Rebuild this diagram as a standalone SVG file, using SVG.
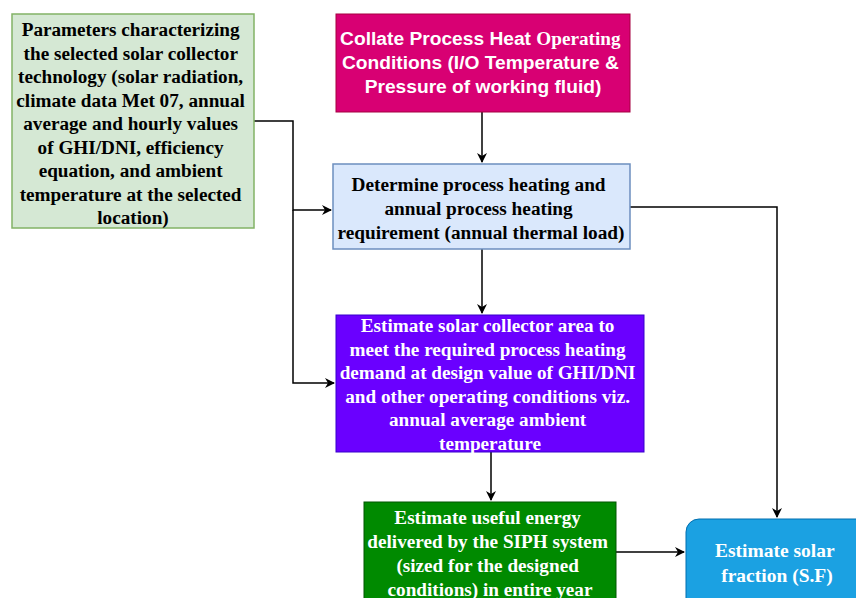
<svg xmlns="http://www.w3.org/2000/svg" width="856" height="598" viewBox="0 0 856 598">
<style>
.t{font-family:"Liberation Serif","Times New Roman",serif;font-weight:bold;text-anchor:middle;dominant-baseline:central}
.a{font-family:"Liberation Sans",Arial,sans-serif;font-weight:bold;text-anchor:middle;dominant-baseline:central;fill:#fff}
.w{fill:#fff}
.k{fill:#000}
.c{fill:none;stroke:#000;stroke-width:1.5}
</style>
<defs>
<marker id="ah" markerWidth="10" markerHeight="10" refX="9" refY="5" orient="auto" markerUnits="userSpaceOnUse">
<path d="M0,0 L10,5 L0,10 L3,5 Z" fill="#000"/>
</marker>
</defs>
<rect width="856" height="598" fill="#fff"/>
<g id="connectors">
<path class="c" d="M482,112 V162" marker-end="url(#ah)"/>
<path class="c" d="M482,249 V313" marker-end="url(#ah)"/>
<path class="c" d="M491,452 V500" marker-end="url(#ah)"/>
<path class="c" d="M630,207 H777 V517" marker-end="url(#ah)"/>
<path class="c" d="M616,552 H684" marker-end="url(#ah)"/>
<path class="c" d="M254,121 H293 V210 H331" marker-end="url(#ah)"/>
<path class="c" d="M293,210 V383 H334" marker-end="url(#ah)"/>
</g>
<g id="params">
<rect x="12" y="14" width="242" height="214" fill="#d5e8d4" stroke="#82b366" stroke-width="1.5"/>
<text class="t k" font-size="19.2">
<tspan x="133" y="29">Parameters characterizing</tspan>
<tspan x="133" y="52.5">the selected solar collector</tspan>
<tspan x="133" y="76">technology (solar radiation,</tspan>
<tspan x="133" y="99.5">climate data Met 07, annual</tspan>
<tspan x="133" y="123">average and hourly values</tspan>
<tspan x="133" y="146.5">of GHI/DNI, efficiency</tspan>
<tspan x="133" y="170">equation, and ambient</tspan>
<tspan x="133" y="193.5">temperature at the selected</tspan>
<tspan x="133" y="217">location)</tspan>
</text>
</g>
<g id="collate">
<rect x="336" y="14" width="294" height="98" fill="#d80073" stroke="#a50040" stroke-width="1"/>
<text class="a" font-size="19.2">
<tspan x="483" y="38">Collate Process Heat <tspan font-family="Liberation Serif,serif">Operating</tspan></tspan>
<tspan x="483" y="62">Conditions (I/O Temperature &amp;</tspan>
<tspan x="483" y="86">Pressure of working fluid)</tspan>
</text>
</g>
<g id="determine">
<rect x="333" y="164" width="297" height="85" fill="#dae8fc" stroke="#6c8ebf" stroke-width="1.5"/>
<text class="t k" font-size="19.3">
<tspan x="481" y="184">Determine process heating and</tspan>
<tspan x="481" y="208">annual process heating</tspan>
<tspan x="481" y="232">requirement (annual thermal load)</tspan>
</text>
</g>
<g id="estimate-area">
<rect x="336" y="315" width="308" height="137" fill="#6a00ff" stroke="#3700cc" stroke-width="1"/>
<text class="t w" font-size="19.2">
<tspan x="490" y="325">Estimate solar collector area to</tspan>
<tspan x="490" y="348.5">meet the required process heating</tspan>
<tspan x="490" y="372">demand at design value of GHI/DNI</tspan>
<tspan x="490" y="395.5">and other operating conditions viz.</tspan>
<tspan x="490" y="419">annual average ambient</tspan>
<tspan x="490" y="442.5">temperature</tspan>
</text>
</g>
<g id="estimate-energy">
<rect x="364" y="502" width="252" height="100" fill="#008a00" stroke="#005700" stroke-width="1"/>
<text class="t w" font-size="19.2">
<tspan x="490" y="517">Estimate useful energy</tspan>
<tspan x="490" y="541">delivered by the SIPH system</tspan>
<tspan x="490" y="565">(sized for the designed</tspan>
<tspan x="490" y="589">conditions) in entire year</tspan>
</text>
</g>
<g id="solar-fraction">
<rect x="686" y="519" width="190" height="100" rx="13" fill="#1ba1e2" stroke="#006eaf" stroke-width="1"/>
<text class="t w" font-size="19.5">
<tspan x="777" y="550">Estimate solar</tspan>
<tspan x="777" y="575">fraction (S.F)</tspan>
</text>
</g>
</svg>
